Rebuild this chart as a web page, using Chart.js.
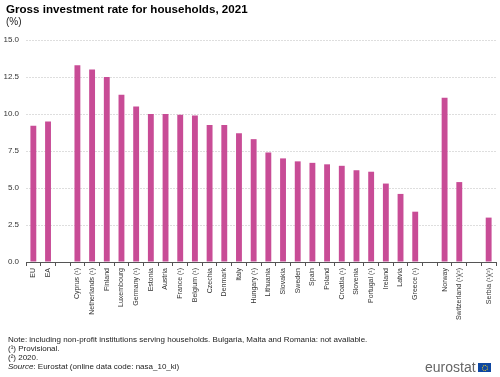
<!DOCTYPE html>
<html>
<head>
<meta charset="utf-8">
<script src="https://cdn.jsdelivr.net/npm/chart.js@4/dist/chart.umd.min.js"></script>
<style>
  html, body { margin: 0; padding: 0; background: #fff; }
  body { width: 500px; height: 377px; position: relative; overflow: hidden; font-family: "Liberation Sans", Arial, sans-serif; }
  #chart { position: absolute; left: 0; top: 0; }
  .title { position: absolute; left: 6px; top: 2px; font-size: 11.6px; font-weight: bold; color: #000; white-space: nowrap; }
  .unit { position: absolute; left: 6px; top: 16px; font-size: 10px; color: #222; }
  .notes { position: absolute; left: 8px; top: 335px; font-size: 8px; line-height: 9px; color: #222; white-space: nowrap; }
  .logo { position: absolute; left: 425px; top: 359px; font-size: 14px; color: #666; white-space: nowrap; line-height: 16px; }
  .flag { position: absolute; left: 478px; top: 363px; width: 13px; height: 9px; background: #0e47a1; }
  .flag i { position: absolute; left: 4px; top: 2px; width: 4px; height: 4px; border: 1px dotted #ffd617; border-radius: 50%; }
</style>
</head>
<body>
<canvas id="chart" width="500" height="377"></canvas>
<div class="title">Gross investment rate for households, 2021</div>
<div class="unit">(%)</div>
<div class="notes">
  Note: including non-profit institutions serving households. Bulgaria, Malta and Romania: not available.<br>
  (¹) Provisional.<br>
  (²) 2020.<br>
  <i>Source</i>: Eurostat (online data code: nasa_10_ki)
</div>
<div class="logo">eurostat</div>
<div class="flag"><i></i></div>

<script>
// categories (empty strings are the gaps between groups)
const countries = [
  "EU", "EA", "",
  "Cyprus (¹)", "Netherlands (¹)", "Finland", "Luxembourg", "Germany (¹)", "Estonia", "Austria",
  "France (¹)", "Belgium (¹)", "Czechia", "Denmark", "Italy", "Hungary (¹)", "Lithuania", "Slovakia",
  "Sweden", "Spain", "Poland", "Croatia (¹)", "Slovenia", "Portugal (¹)", "Ireland", "Latvia", "Greece (¹)", "",
  "Norway", "Switzerland (¹)(²)", "",
  "Serbia (¹)(²)"
];

const rates = [
  9.2, 9.5, null,
  13.3, 13.0, 12.5, 11.3, 10.5, 10.0, 10.0,
  9.95, 9.9, 9.25, 9.25, 8.7, 8.3, 7.4, 7.0,
  6.8, 6.7, 6.6, 6.5, 6.2, 6.1, 5.3, 4.6, 3.4, null,
  11.1, 5.4, null,
  3.0
];

const yTicks = [0, 2.5, 5, 7.5, 10, 12.5, 15];

const barColor = "#c84c96";

new Chart(document.getElementById("chart"), {
  type: "bar",
  data: {
    labels: countries,
    datasets: [{ data: rates, backgroundColor: barColor, barPercentage: 0.8, categoryPercentage: 0.5 }]
  },
  options: {
    responsive: false,
    animation: false,
    layout: { padding: { top: 40, right: 4, left: 0, bottom: 0 } },
    plugins: { legend: { display: false }, tooltip: { enabled: false } },
    scales: {
      x: {
        afterFit: s => { s.height = 115; },
        border: { display: true, color: "#555", width: 1 },
        grid: { drawOnChartArea: false, drawTicks: true, tickLength: 4, color: "#555", offset: true },
        ticks: {
          autoSkip: false, maxRotation: 90, minRotation: 90, padding: 2,
          color: "#333", font: { family: "Liberation Sans", size: 7 }
        }
      },
      y: {
        min: yTicks[0],
        max: yTicks[yTicks.length - 1],
        afterFit: s => { s.width = 26; },
        afterBuildTicks: s => { s.ticks = yTicks.map(v => ({ value: v })); },
        border: { display: false, dash: [2, 1] },
        grid: { drawTicks: false, color: "#dedede", lineWidth: 1 },
        ticks: {
          padding: 7, color: "#333", font: { family: "Liberation Sans", size: 8 },
          callback: v => v.toFixed(1)
        }
      }
    }
  }
});
</script>
</body>
</html>
